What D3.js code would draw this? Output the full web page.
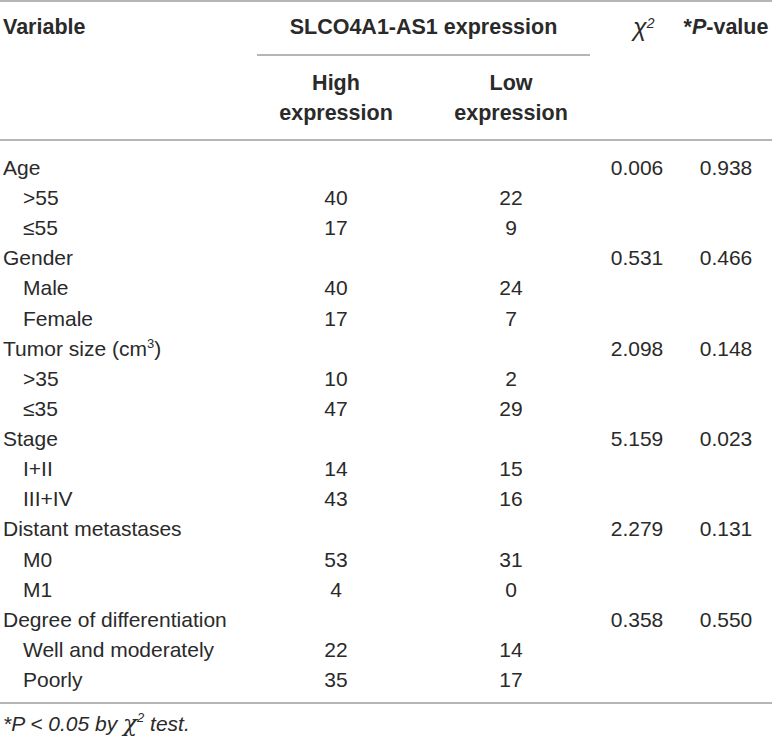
<!DOCTYPE html>
<html>
<head>
<meta charset="utf-8">
<script src="https://cdn.jsdelivr.net/npm/d3@7"></script>
<style>
  body { margin: 0; background: #fff; }
  svg text { font-family: "Liberation Sans", Arial, sans-serif; fill: #2a2a2a; }
  .head { font-weight: bold; font-size: 21.5px; }
  .rule { stroke: #9d9d9d; stroke-width: 1.5; }
</style>
</head>
<body>
<div id="chart"></div>
<script>
// Table contents. "^" marks a superscript.
const rowLabels = [
    "Age", ">55", "≤55",
    "Gender", "Male", "Female",
    "Tumor size (cm^3)", ">35", "≤35",
    "Stage", "I+II", "III+IV",
    "Distant metastases", "M0", "M1",
    "Degree of differentiation", "Well and moderately", "Poorly"
];
const rowIndent = [0, 1, 1, 0, 1, 1, 0, 1, 1, 0, 1, 1, 0, 1, 1, 0, 1, 1];
const highValues = [null, "40", "17", null, "40", "17", null, "10", "47", null, "14", "43", null, "53", "4", null, "22", "35"];
const lowValues = [null, "22", "9", null, "24", "7", null, "2", "29", null, "15", "16", null, "31", "0", null, "14", "17"];
const chiValues = ["0.006", null, null, "0.531", null, null, "2.098", null, null, "5.159", null, null, "2.279", null, null, "0.358", null, null];
const pValues = ["0.938", null, null, "0.466", null, null, "0.148", null, null, "0.023", null, null, "0.131", null, null, "0.550", null, null];
const columns = ["high", "low", "chi", "p"];

const width = 772, height = 739;
const fontSize = 21;

const svg = d3.select("#chart").append("svg")
    .attr("width", width)
    .attr("height", height);

// Row baselines and column centres.
const y = d3.scaleLinear()
    .domain([0, rowLabels.length - 1])
    .range([175, 687]);
const x = d3.scaleOrdinal()
    .domain(columns)
    .range([336, 511, 637, 726]);

// Write a string, turning "^x" into a raised small character.
function richText(sel, str, supSize) {
    const parts = str.split(/\^(.)/);
    let lift = 0;
    parts.forEach((p, i) => {
        if (i % 2 === 1) {
            sel.append("tspan").attr("dy", -8).attr("font-size", supSize || 13).text(p);
            lift = 8;
        } else if (p) {
            sel.append("tspan").attr("dy", lift).text(p);
            lift = 0;
        }
    });
}

// Rules.
const rules = [
    { x1: 0, x2: width, y: 1 },
    { x1: 257, x2: 590, y: 55 },
    { x1: 0, x2: width, y: 140 },
    { x1: 0, x2: width, y: 703 }
];
svg.selectAll("line.rule").data(rules).join("line")
    .attr("class", "rule")
    .attr("x1", d => d.x1).attr("x2", d => d.x2)
    .attr("y1", d => d.y).attr("y2", d => d.y);

// Header.
const head = svg.append("g");
head.append("text").attr("class", "head").attr("x", 3).attr("y", 34).text("Variable");
head.append("text").attr("class", "head").attr("x", (x("high") + x("low")) / 2).attr("y", 34)
    .attr("text-anchor", "middle").text("SLCO4A1-AS1 expression");
const chiHead = head.append("text").attr("x", x("chi") - 4).attr("y", 36)
    .attr("font-size", 25).attr("font-style", "italic")
    .attr("font-family", "'DejaVu Serif', serif");
richText(chiHead, "χ^2", 14);
const pHead = head.append("text").attr("class", "head").attr("x", x("p")).attr("y", 34)
    .attr("text-anchor", "middle");
pHead.append("tspan").text("*");
pHead.append("tspan").attr("font-style", "italic").text("P");
pHead.append("tspan").text("-value");

[["high", "High"], ["low", "Low"]].forEach(([k, t]) => {
    head.append("text").attr("class", "head").attr("x", x(k)).attr("y", 90)
        .attr("text-anchor", "middle").text(t);
    head.append("text").attr("class", "head").attr("x", x(k)).attr("y", 120)
        .attr("text-anchor", "middle").text("expression");
});

// Body rows.
const body = svg.append("g").attr("font-size", fontSize);
rowLabels.forEach((label, i) => {
    const t = body.append("text")
        .attr("x", rowIndent[i] ? 23 : 3)
        .attr("y", y(i));
    richText(t, label);
});

const cells = [
    ["high", highValues], ["low", lowValues], ["chi", chiValues], ["p", pValues]
];
cells.forEach(([k, values]) => {
    body.selectAll(null)
        .data(values.map((v, i) => ({ v, i })).filter(d => d.v !== null))
        .join("text")
        .attr("x", x(k))
        .attr("y", d => y(d.i))
        .attr("text-anchor", "middle")
        .text(d => d.v);
});

// Footnote.
const note = svg.append("text")
    .attr("x", 3).attr("y", 731)
    .attr("font-size", fontSize)
    .attr("font-style", "italic");
note.append("tspan").text("*P < 0.05 by ");
note.append("tspan").attr("font-family", "'DejaVu Serif', serif").attr("font-size", 23).text("χ");
note.append("tspan").attr("dy", -9).attr("font-size", 13).text("2");
note.append("tspan").attr("dy", 9).text(" test.");
</script>
</body>
</html>
